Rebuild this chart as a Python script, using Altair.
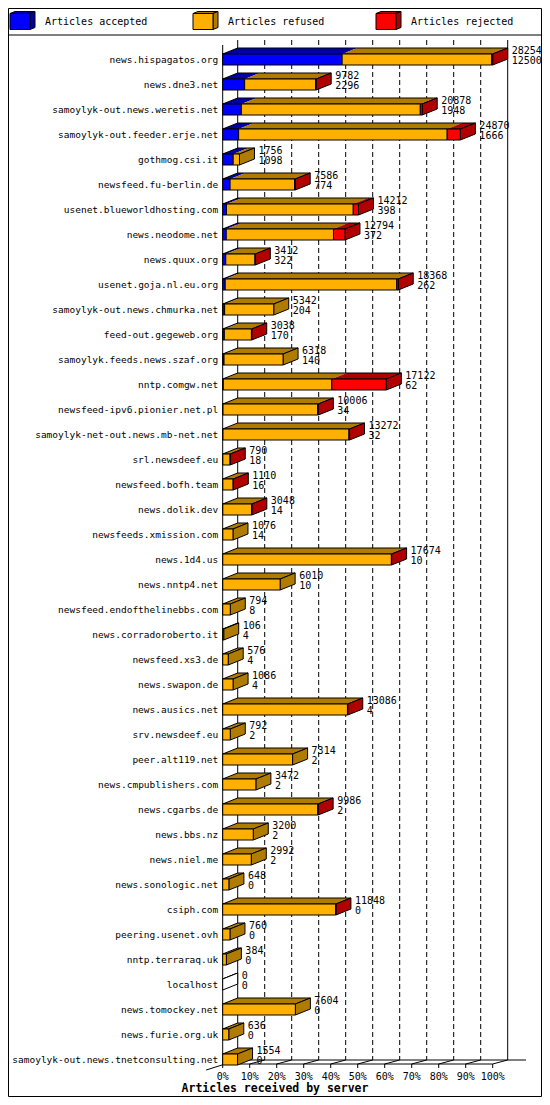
import altair as alt
import pandas as pd

# ---- data ----
servers = [
    "news.hispagatos.org", "news.dne3.net", "samoylyk-out.news.weretis.net",
    "samoylyk-out.feeder.erje.net", "gothmog.csi.it", "newsfeed.fu-berlin.de",
    "usenet.blueworldhosting.com", "news.neodome.net", "news.quux.org",
    "usenet.goja.nl.eu.org", "samoylyk-out.news.chmurka.net", "feed-out.gegeweb.org",
    "samoylyk.feeds.news.szaf.org", "nntp.comgw.net", "newsfeed-ipv6.pionier.net.pl",
    "samoylyk-net-out.news.mb-net.net", "srl.newsdeef.eu", "newsfeed.bofh.team",
    "news.dolik.dev", "newsfeeds.xmission.com", "news.1d4.us", "news.nntp4.net",
    "newsfeed.endofthelinebbs.com", "news.corradoroberto.it", "newsfeed.xs3.de",
    "news.swapon.de", "news.ausics.net", "srv.newsdeef.eu", "peer.alt119.net",
    "news.cmpublishers.com", "news.cgarbs.de", "news.bbs.nz", "news.niel.me",
    "news.sonologic.net", "csiph.com", "peering.usenet.ovh", "nntp.terraraq.uk",
    "localhost", "news.tomockey.net", "news.furie.org.uk",
    "samoylyk-out.news.tnetconsulting.net",
]
received = [28254, 9782, 20878, 24870, 1756, 7586, 14212, 12794, 3412, 18368,
            5342, 3038, 6318, 17122, 10006, 13272, 790, 1110, 3048, 1076,
            17674, 6010, 794, 106, 576, 1086, 13086, 792, 7314, 3472,
            9986, 3200, 2992, 648, 11848, 760, 384, 0, 7604, 636, 1554]
accepted = [12500, 2296, 1948, 1666, 1098, 774, 398, 372, 322, 262,
            204, 170, 140, 62, 34, 32, 18, 16, 14, 14,
            10, 10, 8, 4, 4, 4, 4, 2, 2, 2,
            2, 2, 2, 0, 0, 0, 0, 0, 0, 0, 0]
# rejected: estimated from the length of the red part of each bar
rejected = [100, 50, 200, 1380, 0, 70, 550, 1200, 30, 150,
            0, 30, 0, 5700, 60, 60, 10, 10, 20, 0,
            20, 0, 0, 0, 0, 0, 30, 0, 0, 0,
            20, 0, 0, 0, 30, 0, 0, 0, 0, 0, 0]

kinds = ["accepted", "refused", "rejected"]
legend_labels = ["Articles accepted", "Articles refused", "Articles rejected"]
x_ticks = [0, 10, 20, 30, 40, 50, 60, 70, 80, 90, 100]
axis_title = "Articles received by server"

# ---- styling / layout (chart pixels; the page adds an 8px margin) ----
FRONT = {"accepted": "#0000ff", "refused": "#ffb000", "rejected": "#ff0000"}
SHADE = {"accepted": "#0000a8", "refused": "#b07c00", "rejected": "#b00000"}
W, H = 534, 1089
X0, PX_PCT = 214.7, 2.70       # front 0% position, px per percent
Y0, ROW_PX = 46, 25            # first bar top, row pitch
BAR = 11 / ROW_PX              # front face height in rows
DX, DY = 15 / PX_PCT, 6 / ROW_PX   # 3d depth
FLOOR_F, FLOOR_B = 1056, 1052
WALL_TOP = 32
LEGEND_X = [2, 185, 368]

xs = alt.Scale(domain=[-X0 / PX_PCT, (W - X0) / PX_PCT], nice=False, zero=False)
ys = alt.Scale(domain=[-Y0 / ROW_PX, (H - Y0) / ROW_PX], nice=False, zero=False,
               reverse=True)


def X(f, **kw):
    return alt.X(f, scale=xs, axis=None, **kw)


def Y(f, **kw):
    return alt.Y(f, scale=ys, axis=None, **kw)


peak = max(received)
segs, tops, outlines, sides = [], [], [], []
for i in range(len(servers)):
    parts = [accepted[i], received[i] - accepted[i] - rejected[i], rejected[i]]
    start, last = 0, None
    for kind, v in zip(kinds, parts):
        if v <= 0:
            continue
        a, b = start / peak * 100, (start + v) / peak * 100
        segs.append(dict(row=i, ybot=i + BAR, x0=a, x1=b, fill=FRONT[kind]))
        key = f"{i}-{kind}"
        tops.append(dict(key=key, yy=i, xa=a, xb=b, fill=SHADE[kind]))
        tops.append(dict(key=key, yy=i - DY, xa=a + DX, xb=b + DX, fill=SHADE[kind]))
        start += v
        last = kind
    end = received[i] / peak * 100
    outlines.append(dict(key=i, yy=i, xa=0, xb=end))
    outlines.append(dict(key=i, yy=i - DY, xa=DX, xb=end + DX))
    side_fill = SHADE[last] if last else "white"
    sides.append(dict(key=i, xx=end, ya=i, yb=i + BAR, fill=side_fill))
    sides.append(dict(key=i, xx=end + DX, ya=i - DY, yb=i + BAR - DY, fill=side_fill))

rows = pd.DataFrame({"server": servers, "received": received, "accepted": accepted})
rows["row"] = range(len(servers))
rows["end"] = rows["received"] / peak * 100
rows["yc"] = rows["row"] + BAR / 2
rows["ybot"] = rows["row"] + BAR

ticks = pd.DataFrame({"t": x_ticks})
ticks["tb"] = ticks["t"] + DX
ticks["lbl"] = ticks["t"].astype(str) + "%"
floor = pd.DataFrame({"a": [x_ticks[0]], "b": [x_ticks[-1]]})
floor["a2"] = floor["a"] + DX
floor["left"] = floor["a"] - 16.5 / PX_PCT

# ---- back walls and grid ----
grid = alt.Chart(ticks).transform_filter("datum.t > 0 && datum.t < 100").mark_rule(
    color="black", strokeDash=[5, 3]).encode(
    x=X("tb:Q"), y=alt.value(WALL_TOP), y2=alt.value(FLOOR_B))
walls = alt.Chart(ticks).transform_filter("datum.t == 0 || datum.t == 100").mark_rule(
    color="black").encode(x=X("tb:Q"), y=alt.value(WALL_TOP), y2=alt.value(FLOOR_B))
front_axis = alt.Chart(floor).mark_rule(color="black").encode(
    x=X("a:Q"), y=alt.value(37), y2=alt.value(FLOOR_F))

# ---- floor ----
floor_front = alt.Chart(floor).mark_rule(color="black").encode(
    x=X("a:Q"), x2="b:Q", y=alt.value(FLOOR_F))
floor_back = alt.Chart(floor).mark_rule(color="black").encode(
    x=X("a2:Q"), x2=alt.value(518), y=alt.value(FLOOR_B))
floor_left = alt.Chart(floor).mark_rule(color="black").encode(
    x=X("left:Q"), x2="a2:Q", y=alt.value(1062), y2=alt.value(FLOOR_B))
tick_down = alt.Chart(ticks).mark_rule(color="black").encode(
    x=X("t:Q"), y=alt.value(FLOOR_F), y2=alt.value(FLOOR_F + 4))
tick_diag = alt.Chart(ticks).mark_rule(color="black").encode(
    x=X("t:Q"), x2="tb:Q", y=alt.value(FLOOR_F), y2=alt.value(FLOOR_B))
tick_lbl = alt.Chart(ticks).mark_text(fontSize=10, baseline="alphabetic").encode(
    x=X("t:Q"), y=alt.value(1072), text="lbl:N")
title = alt.Chart(pd.DataFrame({"s": [axis_title]})).mark_text(
    fontSize=11.5, fontWeight="bold", baseline="alphabetic").encode(
    x=alt.value(W / 2), y=alt.value(1084), text="s:N")

# ---- 3d bars ----
top_fill = alt.Chart(pd.DataFrame(tops)).mark_area(orient="horizontal").encode(
    x=X("xa:Q", stack=False), x2="xb:Q", y=Y("yy:Q"), detail="key:N",
    fill=alt.Fill("fill:N", scale=None))
top_line = alt.Chart(pd.DataFrame(outlines)).mark_area(
    orient="horizontal", fillOpacity=0, stroke="black", strokeWidth=1).encode(
    x=X("xa:Q", stack=False), x2="xb:Q", y=Y("yy:Q"), detail="key:N")
side = alt.Chart(pd.DataFrame(sides)).mark_area(
    orient="vertical", stroke="black", strokeWidth=1).encode(
    x=X("xx:Q"), y=Y("ya:Q", stack=False), y2="yb:Q", detail="key:N",
    fill=alt.Fill("fill:N", scale=None))
front = alt.Chart(pd.DataFrame(segs)).mark_rect(stroke="black", strokeWidth=1).encode(
    x=X("x0:Q"), x2="x1:Q", y=Y("row:Q"), y2="ybot:Q",
    fill=alt.Fill("fill:N", scale=None))

tot_lbl = alt.Chart(rows).mark_text(align="left", baseline="alphabetic", dx=19,
                                    dy=-0.5, fontSize=10).encode(
    x=X("end:Q"), y=Y("row:Q"), text="received:Q")
acc_lbl = alt.Chart(rows).mark_text(align="left", baseline="alphabetic", dx=19,
                                    dy=-1, fontSize=10).encode(
    x=X("end:Q"), y=Y("ybot:Q"), text="accepted:Q")
names = alt.Chart(rows).mark_text(align="right", baseline="middle", dy=0.5,
                                  fontSize=9.5).encode(
    x=alt.value(X0 - 4.5), y=Y("yc:Q"), text="server:N")

# ---- legend and frame ----
leg = pd.DataFrame({"label": legend_labels, "kind": kinds, "lx": LEGEND_X})
leg["lx2"] = leg["lx"] + 20
leg["tx"] = leg["lx"] + 35
leg["front"] = leg["kind"].map(FRONT)
leg_faces_top, leg_faces_side = [], []
for _, r in leg.iterrows():
    leg_faces_top.append(dict(key=r.kind, yy=5.5, xa=r.lx, xb=r.lx + 20, fill=SHADE[r.kind]))
    leg_faces_top.append(dict(key=r.kind, yy=3.5, xa=r.lx + 5, xb=r.lx + 25, fill=SHADE[r.kind]))
    leg_faces_side.append(dict(key=r.kind, xx=r.lx + 20, ya=5.5, yb=21.5, fill=SHADE[r.kind]))
    leg_faces_side.append(dict(key=r.kind, xx=r.lx + 25, ya=3.5, yb=19.5, fill=SHADE[r.kind]))

leg_top = alt.Chart(pd.DataFrame(leg_faces_top)).mark_area(
    orient="horizontal", stroke="black", strokeWidth=1).encode(
    x=alt.X("xa:Q", scale=None, stack=False), x2="xb:Q",
    y=alt.Y("yy:Q", scale=None), detail="key:N", fill=alt.Fill("fill:N", scale=None))
leg_side = alt.Chart(pd.DataFrame(leg_faces_side)).mark_area(
    orient="vertical", stroke="black", strokeWidth=1).encode(
    x=alt.X("xx:Q", scale=None), y=alt.Y("ya:Q", scale=None, stack=False), y2="yb:Q",
    detail="key:N", fill=alt.Fill("fill:N", scale=None))
leg_front = alt.Chart(leg).mark_rect(stroke="black", strokeWidth=1).encode(
    x=alt.X("lx:Q", scale=None), x2="lx2:Q", y=alt.value(5.5), y2=alt.value(21.5),
    fill=alt.Fill("front:N", scale=None))
leg_text = alt.Chart(leg).mark_text(align="left", baseline="middle", fontSize=10).encode(
    x=alt.X("tx:Q", scale=None), y=alt.value(13.5), text="label:N")
leg_sep = alt.Chart(floor).mark_rule(color="black").encode(
    x=alt.value(0), x2=alt.value(W), y=alt.value(27))
frame = alt.Chart(floor).mark_rect(fillOpacity=0, stroke="black", strokeWidth=1).encode(
    x=alt.value(0.5), x2=alt.value(W - 0.5), y=alt.value(0.5), y2=alt.value(H - 0.5))

chart = alt.layer(
    grid, walls, front_axis, floor_back, floor_left, floor_front, tick_down, tick_diag,
    top_fill, top_line, side, front, tot_lbl, acc_lbl, names, tick_lbl, title,
    leg_top, leg_side, leg_front, leg_text, leg_sep, frame,
).properties(
    width=W, height=H, autosize=alt.AutoSizeParams(type="none"), padding=0,
    background="white",
).configure_view(strokeWidth=0).configure_text(font="DejaVu Sans Mono", color="black")

chart.save("out.html", embed_options={"renderer": "svg", "actions": False})
